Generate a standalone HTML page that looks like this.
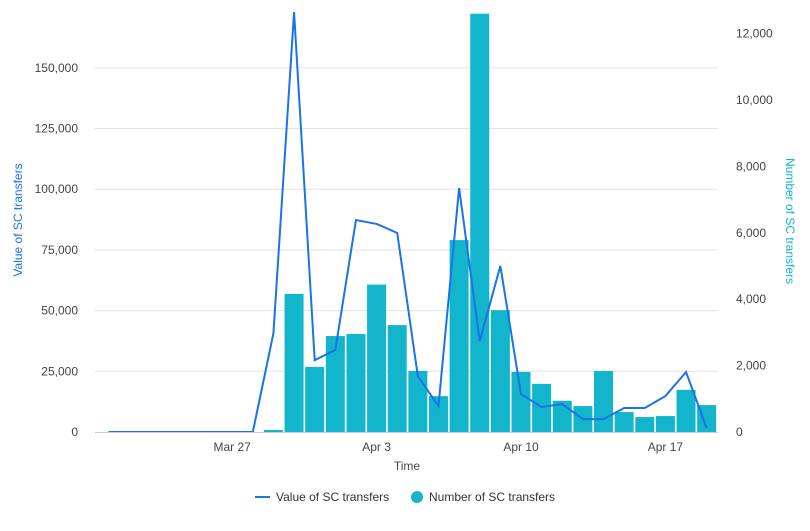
<!DOCTYPE html>
<html><head><meta charset="utf-8"><style>
body{margin:0;background:#fff;font-family:"Liberation Sans",sans-serif}
svg text{font-family:"Liberation Sans",sans-serif}
</style></head><body>
<svg id="chart" width="810" height="526" xmlns="http://www.w3.org/2000/svg"></svg>
<script>
const days=["Mar 21","Mar 22","Mar 23","Mar 24","Mar 25","Mar 26","Mar 27","Mar 28","Mar 29","Mar 30","Mar 31","Apr 1","Apr 2","Apr 3","Apr 4","Apr 5","Apr 6","Apr 7","Apr 8","Apr 9","Apr 10","Apr 11","Apr 12","Apr 13","Apr 14","Apr 15","Apr 16","Apr 17","Apr 18","Apr 19"];
const valueSeries=[0,0,0,0,0,0,0,0,40700,173000,29600,33800,87300,85700,82000,23000,10700,100500,37500,68400,15600,10300,11500,5300,5300,9900,9900,14800,24700,1600];
const countSeries=[null,null,null,null,null,null,null,null,60,4160,1960,2890,2950,4440,3220,1840,1080,5780,12600,3670,1810,1450,940,780,1840,600,450,480,1270,810];
const leftTicks=[0,25000,50000,75000,100000,125000,150000];
const rightTicks=[0,2000,4000,6000,8000,10000,12000];
const xLabels=["Mar 27","Apr 3","Apr 10","Apr 17"];

const svg=document.getElementById('chart');
const NS='http://www.w3.org/2000/svg';
const plotTop=8,plotBottom=432,plotLeft=95,plotRight=718;
const x0=108.4,dx=20.63;
const xPos=i=>x0+i*dx;
const yL=v=>plotBottom-v*(60.7/25000);
const yR=v=>plotBottom-v*(33.2/1000);
function mk(t,a,p){const e=document.createElementNS(NS,t);for(const k in a)e.setAttribute(k,a[k]);(p||svg).appendChild(e);return e;}
const defs=mk('defs',{});const cp=mk('clipPath',{id:'clip'},defs);mk('rect',{x:plotLeft,y:plotTop,width:plotRight-plotLeft,height:plotBottom-plotTop},cp);

leftTicks.forEach(v=>{
 if(v>0){const g=mk('line',{x1:plotLeft,x2:plotRight,y1:yL(v),y2:yL(v),stroke:'#e3e3e3','stroke-width':1});
 
 }
 const t=mk('text',{x:78,y:yL(v)+4,'text-anchor':'end','font-size':12,fill:'#444'});t.textContent=v.toLocaleString('en-US');
 
 
});
rightTicks.forEach(v=>{
 const t=mk('text',{x:736,y:yR(v)+4,'font-size':12,fill:'#444'});t.textContent=v.toLocaleString('en-US');
 
 
});
const bars=mk('g',{'clip-path':'url(#clip)'});


countSeries.forEach((v,i)=>{if(v==null)return;
 const r=mk('rect',{x:xPos(i)-9.5,y:yR(v),width:19,height:plotBottom-yR(v),fill:'#12b5cb'},bars);
 
 
});
const ax=mk('line',{x1:plotLeft,x2:plotRight,y1:plotBottom+0.5,y2:plotBottom+0.5,stroke:'#c8cbe8','stroke-width':1});


const pl=mk('polyline',{points:valueSeries.map((v,i)=>xPos(i)+','+yL(v)).join(' '),fill:'none',stroke:'#1a73e8','stroke-width':2,'clip-path':'url(#clip)','stroke-linejoin':'miter'});


xLabels.forEach(l=>{const i=days.indexOf(l);
 const t=mk('text',{x:xPos(i),y:451,'text-anchor':'middle','font-size':12,fill:'#444'});t.textContent=l;
 
 
});
let t=mk('text',{x:407,y:470,'text-anchor':'middle','font-size':12,fill:'#444'});t.textContent='Time';


t=mk('text',{x:0,y:0,'text-anchor':'middle','font-size':12,fill:'#1a73e8',transform:'translate(22,220) rotate(-90)'});t.textContent='Value of SC transfers';


t=mk('text',{x:0,y:0,'text-anchor':'middle','font-size':12,fill:'#12b5cb',transform:'translate(786,221) rotate(90)'});t.textContent='Number of SC transfers';


const lg=mk('g',{});


const l1=mk('line',{x1:255,x2:270,y1:497,y2:497,stroke:'#1a73e8','stroke-width':2},lg);


t=mk('text',{x:276,y:501,'font-size':12,fill:'#333'},lg);t.textContent='Value of SC transfers';


const c1=mk('circle',{cx:417,cy:497,r:6,fill:'#12b5cb'},lg);


t=mk('text',{x:429,y:501,'font-size':12,fill:'#333'},lg);t.textContent='Number of SC transfers';


</script>
</body></html>
